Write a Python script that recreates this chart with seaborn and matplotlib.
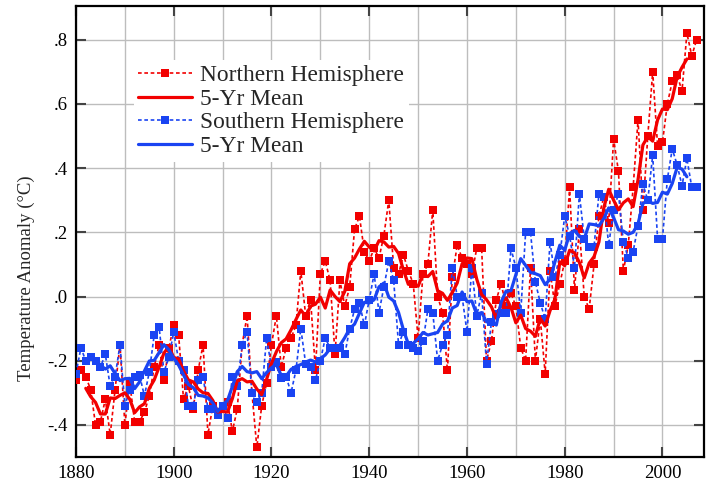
import numpy as np
import pandas as pd
import matplotlib
matplotlib.use("Agg")
import matplotlib.pyplot as plt
import seaborn as sns
from matplotlib.ticker import MultipleLocator, FuncFormatter

years = list(range(1880, 2008))

nh = [-0.26, -0.23, -0.25, -0.29, -0.40, -0.39, -0.32, -0.43, -0.29, -0.15,
      -0.40, -0.27, -0.39, -0.39, -0.36, -0.31, -0.22, -0.15, -0.26, -0.16,
      -0.09, -0.12, -0.32, -0.28, -0.35, -0.23, -0.15, -0.43, -0.34, -0.36,
      -0.34, -0.33, -0.42, -0.35, -0.15, -0.06, -0.30, -0.47, -0.34, -0.27,
      -0.15, -0.06, -0.22, -0.16, -0.13, -0.09, 0.08, -0.06, -0.01, -0.23,
      0.07, 0.11, 0.05, -0.18, 0.05, -0.03, 0.03, 0.21, 0.25, 0.14,
      0.11, 0.15, 0.12, 0.19, 0.30, 0.09, 0.07, 0.13, 0.08, 0.04,
      -0.13, 0.07, 0.10, 0.27, 0.00, -0.05, -0.23, 0.06, 0.16, 0.12,
      0.10, 0.07, 0.15, 0.15, -0.20, -0.14, -0.01, 0.04, -0.03, 0.01,
      -0.03, -0.16, -0.20, 0.09, -0.20, -0.07, -0.24, 0.08, -0.03, 0.04,
      0.11, 0.34, 0.02, 0.21, 0.00, -0.04, 0.10, 0.25, 0.31, 0.23,
      0.49, 0.39, 0.08, 0.16, 0.34, 0.55, 0.27, 0.50, 0.70, 0.47,
      0.48, 0.60, 0.67, 0.69, 0.64, 0.82, 0.75, 0.80]

sh = [-0.24, -0.16, -0.20, -0.19, -0.20, -0.22, -0.18, -0.28, -0.25, -0.15,
      -0.34, -0.29, -0.25, -0.245, -0.31, -0.235, -0.12, -0.095, -0.235, -0.19,
      -0.11, -0.20, -0.23, -0.34, -0.34, -0.26, -0.25, -0.35, -0.35, -0.37,
      -0.34, -0.38, -0.25, -0.28, -0.15, -0.11, -0.30, -0.33, -0.30, -0.13,
      -0.22, -0.205, -0.255, -0.25, -0.30, -0.23, -0.10, -0.21, -0.22, -0.26,
      -0.20, -0.13, -0.16, -0.16, -0.16, -0.18, -0.10, -0.04, -0.02, -0.09,
      -0.01, 0.07, -0.05, 0.03, 0.11, 0.05, -0.15, -0.11, -0.15, -0.16,
      -0.17, -0.14, -0.04, -0.05, -0.20, -0.15, -0.12, 0.09, 0.00, 0.00,
      -0.11, 0.09, -0.06, 0.01, -0.21, -0.08, -0.055, -0.05, -0.05, 0.15,
      0.09, -0.05, 0.20, 0.20, 0.045, -0.02, -0.07, 0.17, 0.06, 0.13,
      0.25, 0.19, 0.09, 0.32, 0.18, 0.155, 0.155, 0.32, 0.31, 0.16,
      0.27, 0.32, 0.17, 0.12, 0.14, 0.22, 0.35, 0.30, 0.44, 0.18,
      0.18, 0.365, 0.46, 0.41, 0.345, 0.43, 0.34, 0.34]

legend_labels = ["Northern Hemisphere", "5-Yr Mean", "Southern Hemisphere", "5-Yr Mean"]

df = pd.DataFrame({"year": years, "nh": nh, "sh": sh})
df["nh5"] = df["nh"].rolling(5, center=True).mean()
df["sh5"] = df["sh"].rolling(5, center=True).mean()

RED = "#f20000"
BLUE = "#1a44f2"

sns.set_theme(style="white")
plt.rcParams["font.family"] = ["Liberation Serif", "DejaVu Serif"]

fig = plt.figure(figsize=(7.06, 4.87), dpi=100)
ax = fig.add_axes([76 / 706, 1 - 457 / 487, (704 - 76) / 706, (457 - 6) / 487])

dot = (0, (2.2, 1.6))
sns.lineplot(data=df, x="year", y="nh", ax=ax, color=RED, linestyle=dot, linewidth=1.2,
             marker="s", markersize=5.5, markeredgewidth=0, label="nh", zorder=3)
sns.lineplot(data=df, x="year", y="sh", ax=ax, color=BLUE, linestyle=dot, linewidth=1.2,
             marker="s", markersize=5.5, markeredgewidth=0, label="sh", zorder=3)
sns.lineplot(data=df, x="year", y="nh5", ax=ax, color=RED, linewidth=2.3,
             label="nh5", zorder=4)
sns.lineplot(data=df, x="year", y="sh5", ax=ax, color=BLUE, linewidth=2.3,
             label="sh5", zorder=4)

ax.set_xlim(1880, 2008.5)
ax.set_ylim(-0.5, 0.905)
ax.xaxis.set_major_locator(MultipleLocator(20))
ax.xaxis.set_minor_locator(MultipleLocator(10))
ax.yaxis.set_major_locator(MultipleLocator(0.2))

def yfmt(v, pos):
    s = "%.1f" % v
    if s in ("-0.0", "0.0"):
        return ".0"
    return s.replace("0.", ".")

ax.yaxis.set_major_formatter(FuncFormatter(yfmt))
ax.grid(which="major", color="#bdbdbd", linewidth=1.0)
ax.grid(which="minor", axis="x", color="#bdbdbd", linewidth=1.0)
ax.set_axisbelow(True)
ax.tick_params(axis="both", which="major", direction="in", length=7, width=1.5,
               colors="#444444", labelcolor="black", labelsize=13.5,
               top=True, right=True, bottom=True, left=True, pad=6)
ax.tick_params(axis="both", which="minor", length=0)
for sp in ax.spines.values():
    sp.set_color("black")
    sp.set_linewidth(1.6)

ax.set_xlabel("")
ax.set_ylabel("Temperature Anomaly (°C)", fontsize=13.5)
ax.yaxis.set_label_coords(-0.066, 0.397)

handles, labels = ax.get_legend_handles_labels()
order = [0, 2, 1, 3]
leg = ax.legend([handles[i] for i in order], legend_labels,
                loc="upper left", bbox_to_anchor=(0.092, 0.880), frameon=True,
                facecolor="white", edgecolor="white", framealpha=1.0, fancybox=False,
                fontsize=16.8, handlelength=2.3, handletextpad=0.35, labelspacing=0.1,
                numpoints=1, borderaxespad=0, borderpad=0.2)
leg.get_frame().set_linewidth(0)

fig.savefig("out.png", dpi=100)
